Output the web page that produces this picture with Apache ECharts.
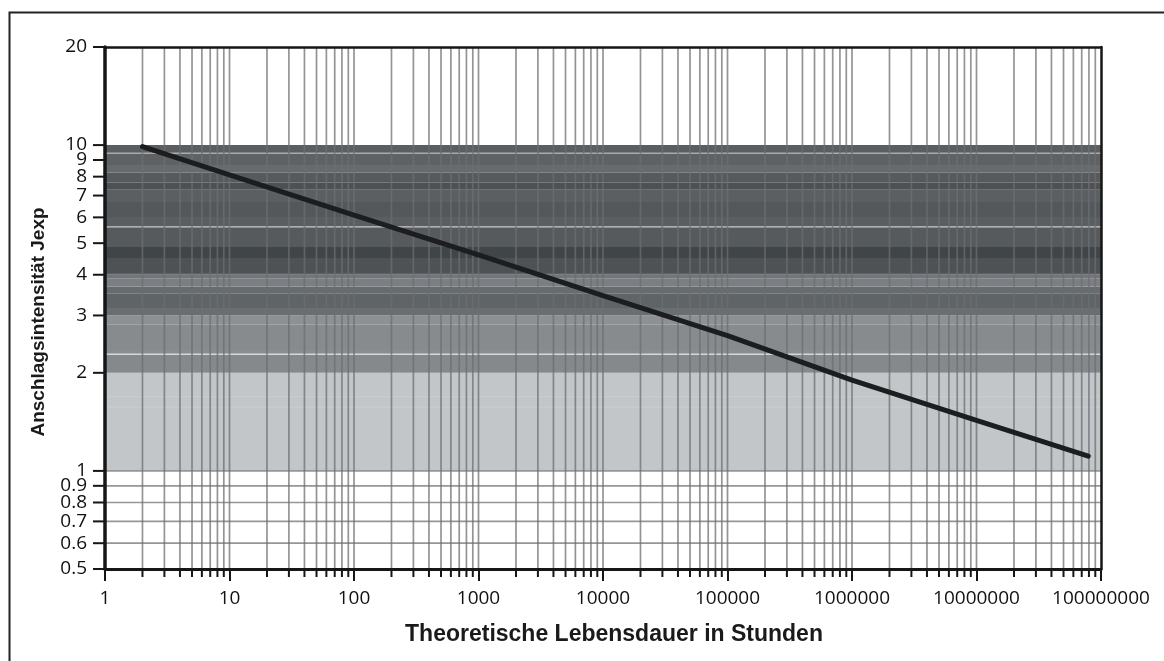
<!DOCTYPE html>
<html>
<head>
<meta charset="utf-8">
<title>Anschlagsintensität</title>
<script src="https://cdn.jsdelivr.net/npm/echarts@6.0.0/dist/echarts.min.js"></script>
<style>
  html, body { margin: 0; padding: 0; background: #ffffff; }
  #chart { width: 1164px; height: 661px; }
</style>
</head>
<body>
<div id="chart"></div>
<script>
// Curve: theoretical lifetime (hours) vs. impact intensity Jexp
const lifeHours = [2, 10, 100, 1000, 10000, 100000, 1000000, 10000000, 79000000];
const jexp = [9.9, 8.1, 6.1, 4.6, 3.45, 2.6, 1.9, 1.43, 1.11];

// Axis ranges and tick values
const xDecades = [1, 10, 100, 1000, 10000, 100000, 1000000, 10000000, 100000000];
const yTickValues = [0.5, 0.6, 0.7, 0.8, 0.9, 1, 2, 3, 4, 5, 6, 7, 8, 9, 10, 20];
const yGridBelow = [0.6, 0.7, 0.8, 0.9, 1];

// Shaded intensity bands (lower / upper Jexp)
const bandLow  = [1, 2, 2.27, 2.35, 2.81, 3, 3.16, 3.51, 3.68, 3.9, 4, 4.05, 4.5, 4.87, 5.61, 6.02, 6.69, 7.29, 7.66, 8.22, 8.69, 9.44];
const bandHigh = [2, 2.27, 2.35, 2.81, 3, 3.16, 3.51, 3.68, 3.9, 4, 4.05, 4.5, 4.87, 5.61, 6.02, 6.69, 7.29, 7.66, 8.22, 8.69, 9.44, 10];
// Pale separating lines inside the bands
const paleLines = [9.44, 5.61, 2.28, 1.69, 1.57];

// ---- styling ----
const bandShade = ['#c2c6c8', '#85898c', '#8a8d90', '#878b8e', '#8d9194',
  '#6a6e71', '#5f6467', '#686c6f', '#7b7e82', '#72767a',
  '#5d6063', '#4e5254', '#404547', '#575a5d', '#5b5e61', '#55585b',
  '#5c5f62', '#4d5153', '#575a5d', '#686b6e', '#5f6265', '#5b5e61'];
const paleShade = ['#a9abad', '#c9cbcd', '#d5d7d8', '#c9cccd', '#c9cccd'];
const ink = '#161616';
const numFont = '"Open Sans", "DejaVu Sans", sans-serif';
const titleFont = '"Liberation Sans", Arial, sans-serif';

const xMin = xDecades[0], xMax = xDecades[xDecades.length - 1];
const yMin = yTickValues[0], yMax = yTickValues[yTickValues.length - 1];

// minor positions 2..9 within each decade
const xMinor = [];
for (let i = 0; i < xDecades.length - 1; i++) {
  for (let m = 2; m <= 9; m++) xMinor.push(xDecades[i] * m);
}
const xGrid = xMinor.concat(xDecades.slice(1, -1));

function renderBand(params, api) {
  const lo = api.value(1), hi = api.value(2);
  const a = api.coord([xMin, hi]);
  const b = api.coord([xMax, lo]);
  return {
    type: 'rect',
    shape: { x: a[0], y: a[1], width: b[0] - a[0], height: b[1] - a[1] },
    style: { fill: bandShade[params.dataIndex] }
  };
}

function renderVLine(params, api) {
  const x = api.value(0);
  const a = api.coord([x, yMax]);
  const b = api.coord([x, yMin]);
  return {
    type: 'line',
    shape: { x1: a[0], y1: a[1], x2: b[0], y2: b[1] },
    style: { stroke: 'rgba(108,111,114,0.74)', lineWidth: 1.7 }
  };
}

function renderHLine(params, api) {
  const y = api.value(1);
  const a = api.coord([xMin, y]);
  const b = api.coord([xMax, y]);
  return {
    type: 'line',
    shape: { x1: a[0], y1: a[1], x2: b[0], y2: b[1] },
    style: { stroke: '#969696', lineWidth: 1.7 }
  };
}

function renderPale(params, api) {
  const y = api.value(1);
  const a = api.coord([xMin, y]);
  const b = api.coord([xMax, y]);
  return {
    type: 'line',
    shape: { x1: a[0], y1: a[1], x2: b[0], y2: b[1] },
    style: { stroke: paleShade[params.dataIndex], lineWidth: 1.4 }
  };
}

function renderXMinorTick(params, api) {
  const p = api.coord([api.value(0), yMin]);
  return {
    type: 'line',
    shape: { x1: p[0], y1: p[1], x2: p[0], y2: p[1] + 8 },
    style: { stroke: ink, lineWidth: 2 }
  };
}

function renderYTick(params, api) {
  const v = api.value(1);
  const p = api.coord([xMin, v]);
  return {
    type: 'group',
    children: [
      {
        type: 'line',
        shape: { x1: p[0] - 12, y1: p[1], x2: p[0], y2: p[1] },
        style: { stroke: ink, lineWidth: 2 }
      },
      {
        type: 'text',
        style: {
          text: String(v), x: p[0] - 18, y: p[1],
          align: 'right', verticalAlign: 'middle',
          fontFamily: numFont, fontSize: 19, fill: '#111111'
        }
      }
    ]
  };
}

const chart = echarts.init(document.getElementById('chart'), null, { renderer: 'canvas' });

chart.setOption({
  animation: false,
  backgroundColor: '#ffffff',
  grid: { left: 105, right: 63, top: 47, bottom: 92, containLabel: false },
  xAxis: [
    {
      type: 'log', logBase: 10, min: xMin, max: xMax, position: 'bottom', z: 10,
      axisLine: { show: true, onZero: false, lineStyle: { color: ink, width: 3 } },
      axisTick: { show: true, length: 12, lineStyle: { color: ink, width: 2 } },
      axisLabel: {
        show: true, margin: 20, fontFamily: numFont, fontSize: 19, color: '#111111',
        formatter: function (v) { return String(Math.round(v)); }
      },
      splitLine: { show: false }
    },
    {
      type: 'log', logBase: 10, min: xMin, max: xMax, position: 'top', z: 10,
      axisLine: { show: true, onZero: false, lineStyle: { color: ink, width: 2.5 } },
      axisTick: { show: false }, axisLabel: { show: false }, splitLine: { show: false }
    }
  ],
  yAxis: [
    {
      type: 'log', logBase: 10, min: yMin, max: yMax, position: 'left', z: 10,
      axisLine: { show: true, onZero: false, lineStyle: { color: ink, width: 3.5 } },
      axisTick: { show: false }, axisLabel: { show: false }, splitLine: { show: false }
    },
    {
      type: 'log', logBase: 10, min: yMin, max: yMax, position: 'right', z: 10,
      axisLine: { show: true, onZero: false, lineStyle: { color: ink, width: 2.5 } },
      axisTick: { show: false }, axisLabel: { show: false }, splitLine: { show: false }
    }
  ],
  series: [
    {
      name: 'bands', type: 'custom', renderItem: renderBand, clip: false, z: 1, silent: true,
      data: bandLow.map(function (lo, i) { return [xMin, lo, bandHigh[i]]; })
    },
    {
      name: 'pale', type: 'custom', renderItem: renderPale, clip: false, z: 2, silent: true,
      data: paleLines.map(function (y) { return [xMin, y]; })
    },
    {
      name: 'hgrid', type: 'custom', renderItem: renderHLine, clip: false, z: 2, silent: true,
      data: yGridBelow.map(function (y) { return [xMin, y]; })
    },
    {
      name: 'vgrid', type: 'custom', renderItem: renderVLine, clip: false, z: 3, silent: true,
      data: xGrid.map(function (x) { return [x, 1]; })
    },
    {
      name: 'xminor', type: 'custom', renderItem: renderXMinorTick, clip: false, z: 11, silent: true,
      data: xMinor.map(function (x) { return [x, 1]; })
    },
    {
      name: 'yticks', type: 'custom', renderItem: renderYTick, clip: false, z: 11, silent: true,
      data: yTickValues.map(function (y) { return [xMin, y]; })
    },
    {
      name: 'Jexp', type: 'line', z: 6, symbol: 'none', smooth: false,
      lineStyle: { color: '#1b1d1f', width: 5, cap: 'round' },
      data: lifeHours.map(function (x, i) { return [x, jexp[i]]; })
    }
  ],
  graphic: [
    {
      type: 'rect', left: 7, top: 10, z: 0, silent: true,
      shape: { width: 1180, height: 680 },
      style: { fill: 'none', stroke: '#222222', lineWidth: 2 }
    },
    {
      type: 'text', x: 614, y: 635, z: 20, silent: true,
      style: {
        text: 'Theoretische Lebensdauer in Stunden',
        align: 'center', verticalAlign: 'middle',
        fontFamily: titleFont, fontWeight: 'bold', fontSize: 23, fill: '#1a1a1a'
      }
    },
    {
      type: 'text', x: 39, y: 322, rotation: Math.PI / 2, z: 20, silent: true,
      style: {
        text: 'Anschlagsintensität Jexp',
        align: 'center', verticalAlign: 'middle',
        fontFamily: titleFont, fontWeight: 'bold', fontSize: 19, fill: '#1a1a1a'
      }
    }
  ]
});
</script>
</body>
</html>
